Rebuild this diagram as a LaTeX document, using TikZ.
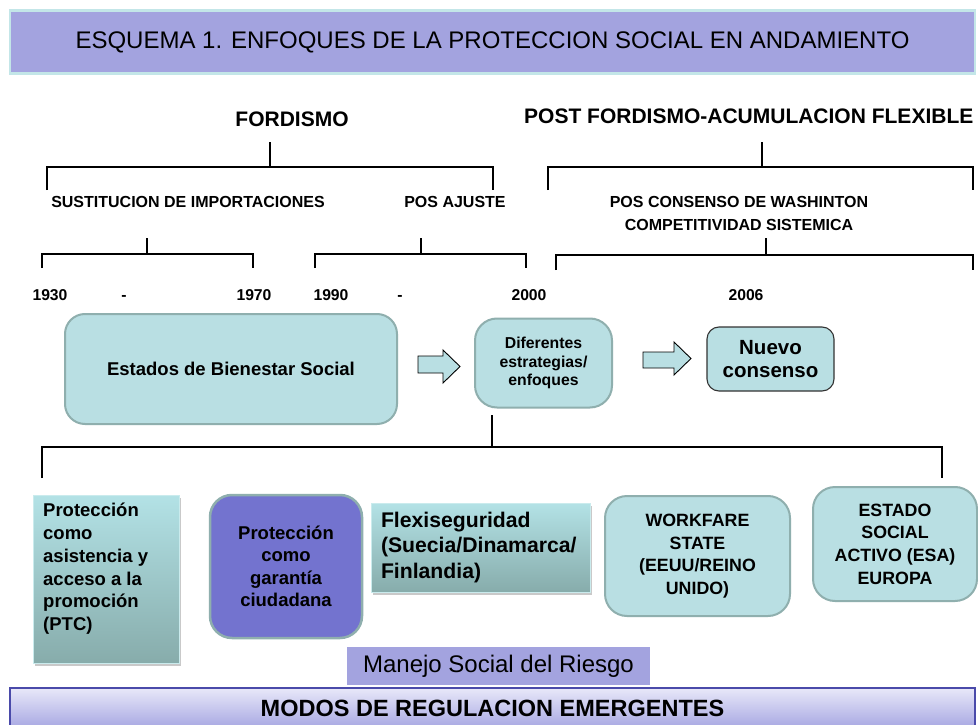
\documentclass[tikz,border=0pt]{standalone}
\usepackage{fontspec}
\setmainfont{Liberation Sans}
\usetikzlibrary{shadows,calc}
\definecolor{lav}{HTML}{A3A3DF}
\definecolor{tealfill}{HTML}{B9DFE3}
\definecolor{tealedge}{HTML}{8FAFAE}
\definecolor{purp}{HTML}{7373CF}
\definecolor{gtop}{HTML}{B3E2E6}
\definecolor{gbot}{HTML}{87ACAB}
\definecolor{bartop}{HTML}{E8E8F9}
\definecolor{barbot}{HTML}{A7A7E2}
\definecolor{baredge}{HTML}{4A4AAA}
\definecolor{titleedge}{HTML}{C3E6E8}
\newcommand\myfs[2]{\fontsize{#1}{#2}\selectfont}
\tikzset{
  titlebox/.style={fill=lav, draw=titleedge, line width=2.5pt, inner sep=0pt},
  hdr/.style={font=\myfs{21}{24}\bfseries, inner sep=0pt},
  subl/.style={font=\myfs{16}{23}\bfseries, inner sep=0pt, align=center},
  yr/.style={font=\myfs{15.7}{18}\bfseries, inner sep=0pt, anchor=base},
  brk/.style={line width=2.9pt, line join=miter},
  conn/.style={line width=2.6pt, line join=miter},
  rbox/.style={draw=tealedge, line width=2pt, fill=tealfill, rounded corners=20pt, align=center, inner sep=0pt},
  nbox/.style={draw=black!80, line width=1.1pt, fill=tealfill, rounded corners=12pt, align=center, inner sep=0pt},
  gbox/.style={shading=axis, top color=gtop, bottom color=gbot, draw=gtop!70!white, line width=1pt,
     drop shadow={opacity=0.35, shadow xshift=1.5pt, shadow yshift=-2.5pt, fill=black!60}},
  barrow/.style={fill=tealfill, draw=black, line width=0.9pt, line join=miter},
  botbar/.style={shading=axis, top color=bartop, bottom color=barbot, draw=baredge, line width=1.5pt, inner sep=0pt},
}
\begin{document}
\begin{tikzpicture}[x=1pt,y=-1pt]
\useasboundingbox (0,0) rectangle (978,725);
\clip (0,0) rectangle (978,725);
\fill[white] (0,0) rectangle (978,725);

% title
\node[titlebox, minimum width=965pt, minimum height=63pt, font=\myfs{24}{28}] (title) at (492.5,42) {ESQUEMA 1. ENFOQUES DE LA PROTECCION SOCIAL EN ANDAMIENTO};

% headers
\node[hdr] (ford) at (292,119) {FORDISMO};
\node[hdr, anchor=west] (post) at (524,116) {POST FORDISMO-ACUMULACION FLEXIBLE};

% brackets level 1
\coordinate (b1s) at (270,142); \coordinate (b1l) at (47,190); \coordinate (b1r) at (493,190);
\coordinate (b1h) at (270,167);
\draw[brk] (b1s) -- (b1h);
\draw[brk] (b1l) -- (b1l |- b1h) -- (b1r |- b1h) -- (b1r);
\coordinate (b2s) at (762,142); \coordinate (b2l) at (548,190); \coordinate (b2r) at (973,190);
\coordinate (b2h) at (762,167);
\draw[brk] (b2s) -- (b2h);
\draw[brk] (b2l) -- (b2l |- b2h) -- (b2r |- b2h) -- (b2r);

% sub labels
\node[subl] (sust) at (188,202) {SUSTITUCION DE IMPORTACIONES};
\node[subl] (posaj) at (455,202) {POS AJUSTE};
\node[subl] (poscon) at (739,213.5) {POS CONSENSO DE WASHINTON\\COMPETITIVIDAD SISTEMICA};

% brackets level 2
\coordinate (b3s) at (147,238); \coordinate (b3h) at (147,254);
\coordinate (b3l) at (42,268); \coordinate (b3r) at (253,268);
\draw[brk] (b3s) -- (b3h);
\draw[brk] (b3l) -- (b3l |- b3h) -- (b3r |- b3h) -- (b3r);
\coordinate (b4s) at (421,238); \coordinate (b4h) at (421,254);
\coordinate (b4l) at (315,268); \coordinate (b4r) at (526,268);
\draw[brk] (b4s) -- (b4h);
\draw[brk] (b4l) -- (b4l |- b4h) -- (b4r |- b4h) -- (b4r);
\coordinate (b5s) at (766,238); \coordinate (b5h) at (766,255);
\coordinate (b5l) at (556,270); \coordinate (b5r) at (973,270);
\draw[brk] (b5s) -- (b5h);
\draw[brk] (b5l) -- (b5l |- b5h) -- (b5r |- b5h) -- (b5r);

% years
\node[yr] (y1930) at (50,300) {1930};
\node[yr] (d1) at (124,300) {-};
\node[yr] (y1970) at (254,300) {1970};
\node[yr] (y1990) at (331,300) {1990};
\node[yr] (d2) at (400,300) {-};
\node[yr] (y2000) at (529,300) {2000};
\node[yr] (y2006) at (746,300) {2006};

% middle row
\node[rbox, minimum width=332pt, minimum height=110pt, font=\myfs{18.5}{22}\bfseries] (est) at (231,369) {Estados de Bienestar Social};
\node[rbox, minimum width=137pt, minimum height=89pt, rounded corners=22pt, font=\myfs{15.8}{18.5}\bfseries] (dif) at (543.5,363) {Diferentes\\estrategias/\\enfoques};
\node[nbox, minimum width=127pt, minimum height=64pt, font=\myfs{20.5}{23}\bfseries] (nue) at (770.5,359) {Nuevo\\consenso};

% block arrows
\draw[barrow] (418,356) -- (443,356) -- (443,350) -- (460,366.5) -- (443,383) -- (443,373) -- (418,373) -- cycle;
\draw[barrow] (643,352) -- (674,352) -- (674,342) -- (691,358.5) -- (674,375) -- (674,368) -- (643,368) -- cycle;

% tree connector
\coordinate (st) at (492,415);
\coordinate (hl) at (42,447); \coordinate (hr) at (942,447);
\coordinate (ll) at (42,478); \coordinate (lr) at (942,478);
\draw[conn] (st) -- (st |- hl);
\draw[conn] (ll) -- (hl) -- (hr) -- (lr);

% bottom row
\node[gbox, minimum width=146pt, minimum height=168pt, inner sep=0pt] (ptc) at (106,579) {};
\node[anchor=north west, align=left, inner sep=0pt, font=\myfs{18.5}{22.8}\bfseries] (ptctext) at (43,503) {Protección\\como\\asistencia y\\acceso a la\\promoción\\(PTC)};
\node[rbox, fill=purp, line width=2.5pt, minimum width=152pt, minimum height=143pt, rounded corners=22pt, font=\myfs{18.5}{22.5}\bfseries] (gar) at (286,566.5) {Protección\\como\\garantía\\ciudadana};
\node[gbox, minimum width=219pt, minimum height=89pt, inner xsep=10pt, inner ysep=0pt, text width=199pt, align=left, font=\myfs{21.2}{25.5}\bfseries] (flex) at (480.5,547.5) {Flexiseguridad\\(Suecia/Dinamarca/\\Finlandia)};
\node[rbox, minimum width=185pt, minimum height=120pt, rounded corners=22pt, font=\myfs{17.8}{22.5}\bfseries] (work) at (697.5,556) {WORKFARE\\STATE\\(EEUU/REINO\\UNIDO)};
\node[rbox, minimum width=164pt, minimum height=114pt, rounded corners=22pt, font=\myfs{17.8}{22.7}\bfseries] (esa) at (895,544) {ESTADO\\SOCIAL\\ACTIVO (ESA)\\EUROPA};

\node[fill=lav, minimum width=303pt, minimum height=38pt, inner sep=0pt, font=\myfs{24}{26}] (man) at (498.5,666) {Manejo Social del Riesgo};
\node[botbar, minimum width=965pt, minimum height=40pt, font=\myfs{23.5}{26}\bfseries] (bot) at (492.5,708) {MODOS DE REGULACION EMERGENTES};
\end{tikzpicture}
\end{document}
